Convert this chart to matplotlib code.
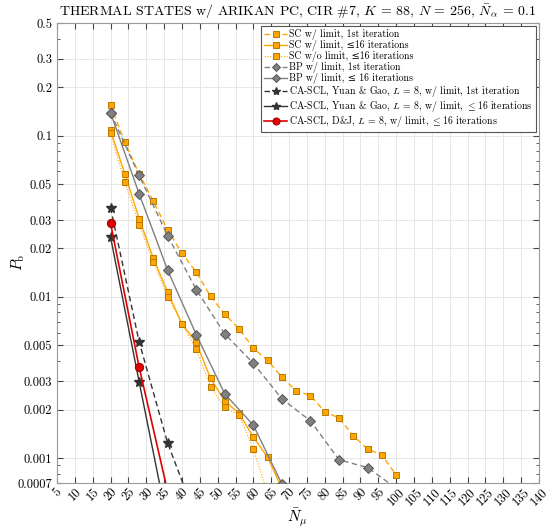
import numpy as np
import matplotlib
matplotlib.use("Agg")
import matplotlib.pyplot as plt
from matplotlib.ticker import FixedLocator, NullFormatter, LogLocator

plt.rcParams['font.family'] = ['cmr10', 'DejaVu Serif']
plt.rcParams['mathtext.fontset'] = 'cm'
plt.rcParams['axes.formatter.use_mathtext'] = True

# ---- data ----
sc1_x = [20, 24, 28, 32, 36, 40, 44, 48, 52, 56, 60, 64, 68, 72, 76, 80, 84, 88, 92, 96, 100]
sc1_y = [0.155, 0.091, 0.058, 0.0393, 0.0259, 0.0187, 0.0142, 0.0101, 0.0078, 0.00634, 0.0048,
         0.00403, 0.00318, 0.00261, 0.00244, 0.00194, 0.00177, 0.00137, 0.00114, 0.00104, 0.000786]

sc16_x = [20, 24, 28, 32, 36, 40, 44, 48, 52, 56, 60, 64, 68]
sc16_y = [0.1077, 0.058, 0.0306, 0.0173, 0.0107, 0.00681, 0.00522, 0.00312, 0.00226, 0.00189,
          0.00135, 0.00101, 0.00065]

scnl_x = [20, 24, 28, 32, 36, 40, 44, 48, 52, 56, 60, 64]
scnl_y = [0.1036, 0.0514, 0.0281, 0.0165, 0.0100, 0.00681, 0.00472, 0.00277, 0.00206, 0.00185,
          0.00114, 0.0006]

bp1_x = [20, 28, 36, 44, 52, 60, 68, 76, 84, 92, 100]
bp1_y = [0.1386, 0.0567, 0.0239, 0.0111, 0.00588, 0.00387, 0.00233, 0.0017, 0.000975, 0.000873, 0.00065]

bp16_x = [20, 28, 36, 44, 52, 60, 68]
bp16_y = [0.1386, 0.0437, 0.01463, 0.00584, 0.0025, 0.0016, 0.00069]

yg1_x = [20, 28, 36, 44]
yg1_y = [0.0358, 0.00527, 0.001236, 0.000424]

yg16_x = [20, 28, 36]
yg16_y = [0.0235, 0.00298, 0.00039]

dj_x = [20, 28, 36]
dj_y = [0.0287, 0.00367, 0.00062]

x_ticks = list(range(5, 141, 5))
y_ticks = [0.0007, 0.001, 0.002, 0.003, 0.005, 0.01, 0.02, 0.03, 0.05, 0.1, 0.2, 0.3, 0.5]
y_tick_labels = ['0.0007', '0.001', '0.002', '0.003', '0.005', '0.01', '0.02', '0.03', '0.05',
                 '0.1', '0.2', '0.3', '0.5']

# ---- styles ----
orange = '#FFA500'
orange_e = '#B87800'
gray = '#808080'
gray_e = '#555555'
dark = '#333333'

fig = plt.figure(figsize=(5.5, 5.28), dpi=100)
ax = fig.add_axes([0.1036, 0.0852, 0.8764, 0.8712])

ax.plot(sc1_x, sc1_y, ls=(0, (4, 2.5)), color=orange, lw=1.0, marker='s', ms=5,
        mfc=orange, mec=orange_e, mew=0.7, label='SC w/ limit, 1st iteration', zorder=3)
ax.plot(sc16_x, sc16_y, ls='-', color=orange, lw=1.0, marker='s', ms=5,
        mfc=orange, mec=orange_e, mew=0.7, label='SC w/ limit, ≤16 iterations', zorder=3)
ax.plot(scnl_x, scnl_y, ls=(0, (1, 1.5)), color=orange, lw=0.8, marker='s', ms=5,
        mfc=orange, mec=orange_e, mew=0.7, label='SC w/o limit, ≤16 iterations', zorder=3)
ax.plot(bp1_x, bp1_y, ls=(0, (4, 2.5)), color=gray, lw=1.0, marker='D', ms=5,
        mfc=gray, mec=gray_e, mew=0.7, label='BP w/ limit, 1st iteration', zorder=3)
ax.plot(bp16_x, bp16_y, ls='-', color=gray, lw=1.0, marker='D', ms=5,
        mfc=gray, mec=gray_e, mew=0.7, label='BP w/ limit, ≤ 16 iterations', zorder=3)
ax.plot(yg1_x, yg1_y, ls=(0, (4, 2.5)), color=dark, lw=1.0, marker='*', ms=7,
        mfc=dark, mec=dark, label=r'CA-SCL, Yuan & Gao, $L$ = 8, w/ limit, 1st iteration', zorder=3)
ax.plot(yg16_x, yg16_y, ls='-', color=dark, lw=1.0, marker='*', ms=7,
        mfc=dark, mec=dark, label=r'CA-SCL, Yuan & Gao, $L$ = 8, w/ limit, $\leq$16 iterations', zorder=3)
ax.plot(dj_x, dj_y, ls='-', color='#E00000', lw=1.2, marker='o', ms=6,
        mfc='#E00000', mec='#A00000', mew=0.7, label=r'CA-SCL, D&J, $L$ = 8, w/ limit, $\leq$16 iterations', zorder=4)

ax.set_yscale('log')
ax.set_xlim(5, 140)
ax.set_ylim(0.0007, 0.5)
ax.xaxis.set_major_locator(FixedLocator(x_ticks))
ax.set_xticklabels([str(t) for t in x_ticks], rotation=45, ha='center', va='top')
ax.yaxis.set_major_locator(FixedLocator(y_ticks))
ax.set_yticklabels(y_tick_labels)
ax.yaxis.set_minor_locator(LogLocator(base=10, subs=np.arange(1, 10)))
ax.yaxis.set_minor_formatter(NullFormatter())

ax.tick_params(which='both', direction='in', top=True, right=True, labelsize=9, color='#444444')
ax.tick_params(which='major', length=4)
ax.tick_params(which='minor', length=2)
ax.tick_params(axis='x', pad=2)
ax.grid(True, which='major', color='#E6E6E6', lw=0.7)
ax.set_axisbelow(True)
for s in ax.spines.values():
    s.set_color('#999999')
    s.set_linewidth(0.8)

ax.set_title(r'THERMAL STATES w/ ARIKAN PC, CIR #7, $K$ = 88, $N$ = 256, $\bar{N}_\alpha$ = 0.1',
             fontsize=10, pad=5)
ax.set_xlabel(r'$\bar{N}_\mu$', fontsize=11)
ax.set_ylabel(r'$P_\mathrm{b}$', fontsize=11)
ax.xaxis.set_label_coords(0.5, -0.05)
ax.yaxis.set_label_coords(-0.062, 0.48)

leg = ax.legend(loc='upper right', fontsize=7.1, handlelength=2.3, handletextpad=0.2,
                labelspacing=0.0, borderpad=0.3, fancybox=False, framealpha=1,
                edgecolor='#555555', borderaxespad=0.35, markerscale=0.85)
leg.get_frame().set_linewidth(0.8)

fig.savefig('out.png', dpi=100)
